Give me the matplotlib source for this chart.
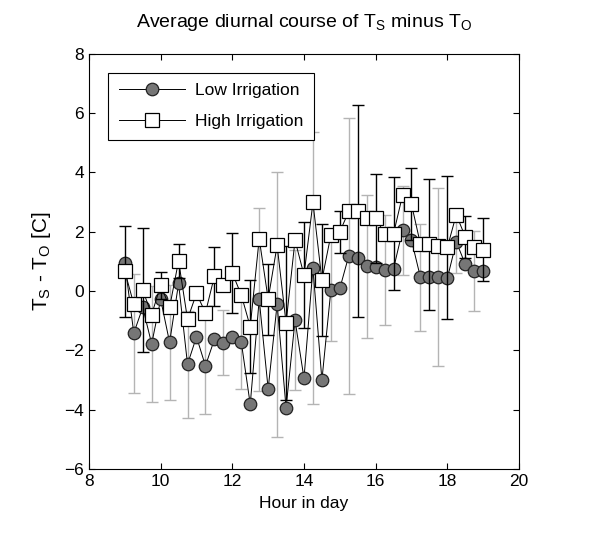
import numpy as np
import matplotlib.pyplot as plt

plt.rcParams['font.family'] = ['Liberation Sans', 'DejaVu Sans']
plt.rcParams['mathtext.fontset'] = 'custom'
plt.rcParams['mathtext.rm'] = 'Liberation Sans'
plt.rcParams['mathtext.it'] = 'Liberation Sans'

# hour of day, quarter-hour steps
hours = [9.0, 9.25, 9.5, 9.75, 10.0, 10.25, 10.5, 10.75, 11.0, 11.25, 11.5,
         11.75, 12.0, 12.25, 12.5, 12.75, 13.0, 13.25, 13.5, 13.75, 14.0,
         14.25, 14.5, 14.75, 15.0, 15.25, 15.5, 15.75, 16.0, 16.25, 16.5,
         16.75, 17.0, 17.25, 17.5, 17.75, 18.0, 18.25, 18.5, 18.75, 19.0]

low_irr = [0.95, -1.42, -0.55, -1.78, -0.28, -1.73, 0.26, -2.47, -1.54, -2.52, -1.63,
           -1.74, -1.56, -1.72, -3.82, -0.28, -3.30, -0.44, -3.94, -0.98, -2.94,
           0.78, -3.00, 0.03, 0.09, 1.19, 1.11, 0.83, 0.82, 0.71, 0.76,
           2.05, 1.72, 0.46, 0.48, 0.48, 0.43, 1.66, 0.91, 0.67, 0.67]

high_irr = [0.67, -0.44, 0.03, -0.79, 0.20, -0.55, 1.02, -0.95, -0.08, -0.73, 0.50,
            0.20, 0.61, -0.13, -1.20, 1.77, -0.27, 1.54, -1.08, 1.72, 0.54,
            2.99, 0.37, 1.89, 2.00, 2.69, 2.70, 2.46, 2.46, 1.94, 1.94,
            3.23, 2.93, 1.58, 1.58, 1.53, 1.47, 2.58, 1.83, 1.47, 1.40]

# error bars are shown at alternating times: low at odd, high at even slots
low_err = [2.0, 1.95, 1.95, 1.8, 1.63, 1.1, 1.57, 3.08, 4.47, 2.36,
           4.6, 1.7, 4.65, 2.4, 1.87, 1.5, 1.8, 3.0, 1.05, 1.35]
high_err = [1.53, 2.1, 0.45, 0.58, 0.17, 1.0, 1.35, 1.57, 1.2, 2.6, 1.8,
            1.88, 0.7, 3.56, 1.5, 1.9, 1.22, 2.21, 2.4, 0.7, 1.05]

fig = plt.figure(figsize=(5.96, 5.33), dpi=100)
ax = fig.add_axes([0.1493, 0.120, 0.7215, 0.779])

ax.errorbar(hours[1::2], low_irr[1::2], yerr=low_err, fmt='none',
            ecolor='#b4b4b4', elinewidth=1.0, capsize=4, capthick=1.0, zorder=1)
ax.plot(hours, low_irr, color='black', lw=0.7, marker='o', markersize=9,
        markerfacecolor='#767676', markeredgecolor='#222222', markeredgewidth=0.9,
        label='Low Irrigation', zorder=2)
ax.errorbar(hours[0::2], high_irr[0::2], yerr=high_err, fmt='none',
            ecolor='black', elinewidth=1.0, capsize=4, capthick=1.0, zorder=3)
ax.plot(hours, high_irr, color='black', lw=0.7, marker='s', markersize=9.5,
        markerfacecolor='white', markeredgecolor='black', markeredgewidth=0.9,
        label='High Irrigation', zorder=4)

ax.set_xlim(8, 20)
ax.set_ylim(-6, 8)
ax.set_xticks([8, 10, 12, 14, 16, 18, 20])
ax.set_yticks([-6, -4, -2, 0, 2, 4, 6, 8])
ax.tick_params(direction='in', top=True, right=True, labelsize=12.5, length=4, width=0.8)
for s in ax.spines.values():
    s.set_linewidth(0.8)

ax.set_title(r'Average diurnal course of T$_\mathrm{S}$ minus T$_\mathrm{O}$', fontsize=14, pad=19)
ax.set_xlabel('Hour in day', fontsize=12.5, labelpad=5)
ax.set_ylabel(r'T$_\mathrm{S}$ - T$_\mathrm{O}$ [C]', fontsize=15, labelpad=8)

leg = ax.legend(loc='upper left', fontsize=12.5, fancybox=False, framealpha=1,
                edgecolor='black', borderpad=0.6, labelspacing=0.9, handlelength=3.8,
                handletextpad=0.6, bbox_to_anchor=(0.025, 0.975))
leg.get_frame().set_linewidth(0.8)

fig.savefig('out.png', dpi=100)
